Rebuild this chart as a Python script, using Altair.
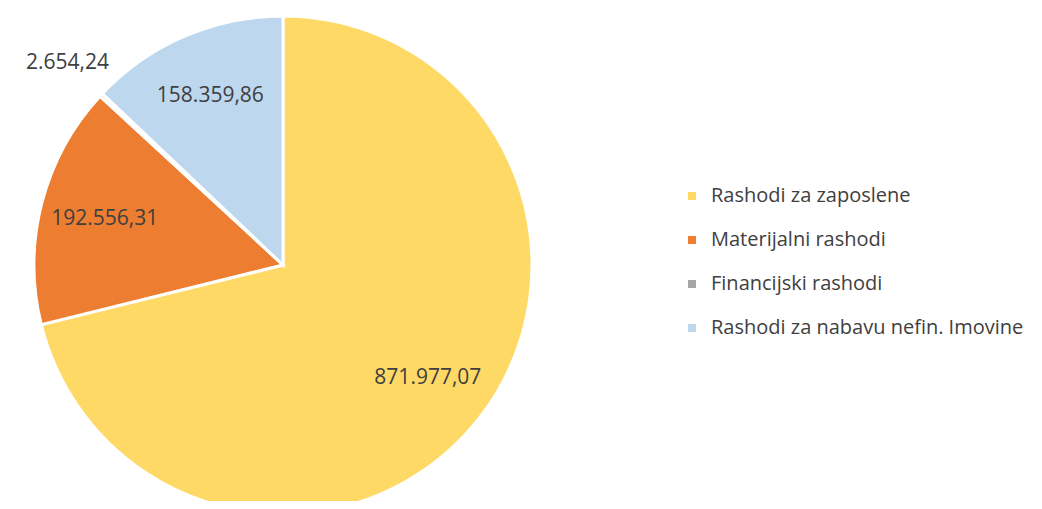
import altair as alt
import pandas as pd

categories = ["Rashodi za zaposlene", "Materijalni rashodi", "Financijski rashodi", "Rashodi za nabavu nefin. Imovine"]
values = [871977.07, 192556.31, 2654.24, 158359.86]
labels = ["871.977,07", "192.556,31", "2.654,24", "158.359,86"]
colors = ["#FFD966", "#ED7D31", "#A5A5A5", "#BDD7EE"]

df = pd.DataFrame({"cat": categories, "val": values, "label": labels, "idx": list(range(len(categories)))})

CX, CY = 275, 257

arc = alt.Chart(df).mark_arc(outerRadius=249, stroke="white", strokeWidth=3).encode(
    x=alt.value(CX),
    y=alt.value(CY),
    theta=alt.Theta("val:Q", stack=True),
    order=alt.Order("idx:Q"),
    color=alt.Color(
        "cat:N",
        scale=alt.Scale(domain=categories, range=colors),
        sort=categories,
        legend=alt.Legend(
            title=None,
            orient="none",
            legendX=674,
            legendY=178,
            padding=0,
            symbolType="square",
            symbolSize=64,
            symbolStrokeWidth=0,
            labelFontSize=20,
            labelFont="Open Sans",
            labelColor="#404040",
            rowPadding=24,
            labelOffset=9,
            labelLimit=400,
        ),
    ),
)

text = (
    alt.Chart(df)
    .transform_joinaggregate(total="sum(val)")
    .transform_window(cum="sum(val)", sort=[alt.SortField("idx")], frame=[None, 0])
    .transform_calculate(
        mid="(datum.cum - datum.val / 2) / datum.total * 2 * PI",
        r="datum.cat == 'Financijski rashodi' ? 295 : 184",
    )
    .mark_text(fontSize=21, font="Open Sans", color="#404040")
    .encode(
        x=alt.value(CX),
        y=alt.value(CY),
        theta=alt.Theta("mid:Q", scale=None, stack=None),
        radius=alt.Radius("r:Q", scale=None),
        text="label:N",
    )
)

chart = (
    alt.layer(arc, text)
    .properties(width=1026, height=493, padding=0, autosize=alt.AutoSizeParams(type="none"))
    .configure_view(stroke=None)
)

chart.save("out.html", embed_options={"renderer": "svg", "actions": False})
